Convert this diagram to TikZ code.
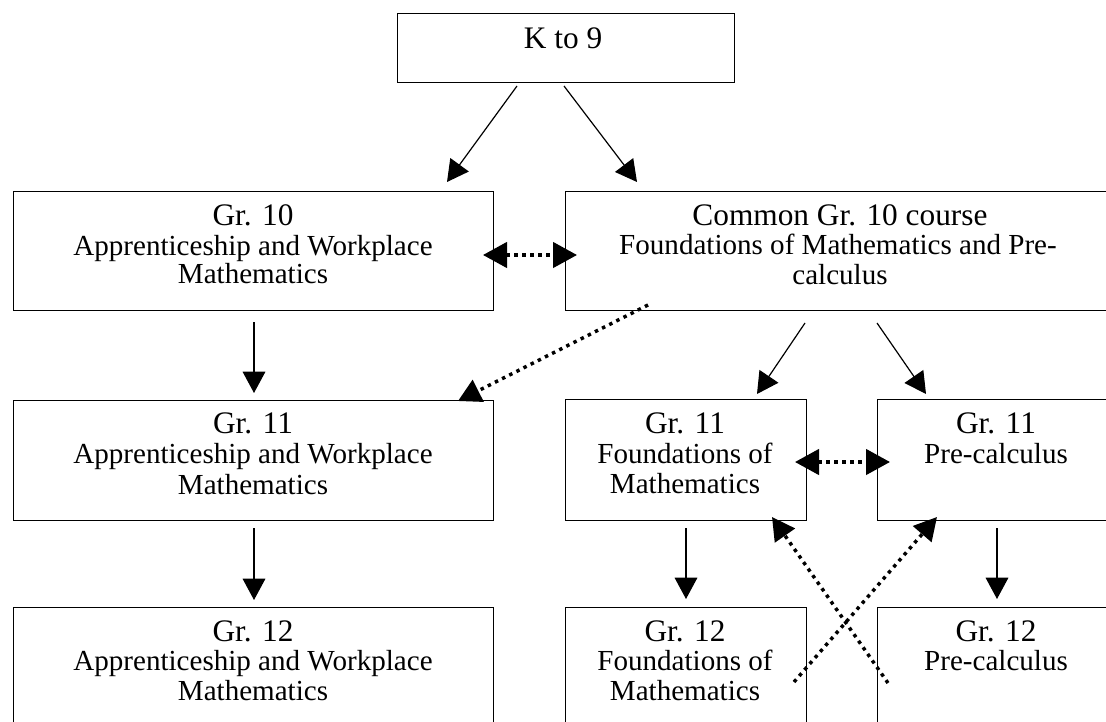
\documentclass[tikz,border=0pt]{standalone}
\usepackage{fontspec}
\setmainfont{Liberation Serif}
\usetikzlibrary{arrows.meta}
\begin{document}
\begin{tikzpicture}[x=0.75pt,y=-0.75pt,
  box/.style={draw=black,line width=1.1pt,fill=white,anchor=north west,inner sep=0pt,minimum height=89.25pt},
  ttl/.style={anchor=base,inner sep=0pt,font=\fontsize{23.5}{26}\selectfont},
  bdy/.style={anchor=base,inner sep=0pt,font=\fontsize{21.8}{24}\selectfont},
  solidarrow/.style={line width=0.9pt,-{Triangle[length=16pt,width=17pt]}},
  dotarrow/.style={line width=2.6pt,dash pattern=on 2.6pt off 3.4pt,-{Triangle[length=17pt,width=18pt]}},
  dotboth/.style={line width=2.6pt,dash pattern=on 2.6pt off 3.4pt,{Triangle[length=18pt,width=19pt]}-{Triangle[length=18pt,width=19pt]}}]
\useasboundingbox (0,0) rectangle (1106,721);
\clip (0,0) rectangle (1106,721);

% boxes
\node[box,minimum width=252.75pt,minimum height=51.75pt] (k9) at (397,13) {};
\node[box,minimum width=360pt] (g10a) at (13,191) {};
\node[box,minimum width=412.5pt] (g10c) at (565,191) {};
\node[box,minimum width=360pt,minimum height=90pt] (g11a) at (13,400) {};
\node[box,minimum width=180.75pt,minimum height=90.75pt] (g11f) at (565,399) {};
\node[box,minimum width=178.5pt,minimum height=90.75pt] (g11p) at (877,399) {};
\node[box,minimum width=360pt,minimum height=90pt] (g12a) at (13,607) {};
\node[box,minimum width=180.75pt,minimum height=90pt] (g12f) at (565,607) {};
\node[box,minimum width=178.5pt,minimum height=90pt] (g12p) at (877,607) {};

% texts
\node[ttl] (tk9) at (563,48) {K to 9};

\node[ttl] (t10a1) at (253,225) {Gr. 10};
\node[bdy] (t10a2) at (253,255) {Apprenticeship and Workplace};
\node[bdy] (t10a3) at (253,283) {Mathematics};

\node[ttl] (t10c1) at (840,225) {Common Gr. 10 course};
\node[bdy] (t10c2) at (838,254) {Foundations of Mathematics and Pre-};
\node[bdy] (t10c3) at (840,284) {calculus};

\node[ttl] (t11a1) at (253,433) {Gr. 11};
\node[bdy] (t11a2) at (253,463) {Apprenticeship and Workplace};
\node[bdy] (t11a3) at (253,494) {Mathematics};

\node[ttl] (t11f1) at (685,433) {Gr. 11};
\node[bdy] (t11f2) at (685,463) {Foundations of};
\node[bdy] (t11f3) at (685,493) {Mathematics};

\node[ttl] (t11p1) at (996,433) {Gr. 11};
\node[bdy] (t11p2) at (996,463) {Pre-calculus};

\node[ttl] (t12a1) at (253,641) {Gr. 12};
\node[bdy] (t12a2) at (253,670) {Apprenticeship and Workplace};
\node[bdy] (t12a3) at (253,700) {Mathematics};

\node[ttl] (t12f1) at (685,641) {Gr. 12};
\node[bdy] (t12f2) at (685,670) {Foundations of};
\node[bdy] (t12f3) at (685,700) {Mathematics};

\node[ttl] (t12p1) at (996,641) {Gr. 12};
\node[bdy] (t12p2) at (996,670) {Pre-calculus};

% connector end points
\coordinate (k9l) at (517,86);
\coordinate (k9r) at (564,86);
\coordinate (g10aT) at (447,182);
\coordinate (g10cT) at (637,182);
\coordinate (g10aR) at (483,255);
\coordinate (g10cL) at (577,255);
\coordinate (g10aB) at (254,322);
\coordinate (g11aT) at (254,393);
\coordinate (g10cS) at (648,305);
\coordinate (g11aTR) at (458,401);
\coordinate (g10cB1) at (805,323);
\coordinate (g10cB2) at (877,323);
\coordinate (g11fT) at (757,394);
\coordinate (g11pT) at (926,394);
\coordinate (g11fR) at (795,462);
\coordinate (g11pL) at (890,462);
\coordinate (g11aB) at (254,528);
\coordinate (g12aT) at (254,600);
\coordinate (g11fB) at (686,528);
\coordinate (g12fT) at (686,599);
\coordinate (g11pB) at (997,528);
\coordinate (g12pT) at (997,599);
\coordinate (crA) at (888,683);
\coordinate (g11fBR) at (772,517);
\coordinate (crB) at (794,682);
\coordinate (g11pBL) at (937,517);

% connectors
\draw[solidarrow] (k9l) -- (g10aT);
\draw[solidarrow] (k9r) -- (g10cT);
\draw[dotboth] (g10aR) -- (g10cL);
\draw[solidarrow] (g10aB) -- (g11aT);
\draw[dotarrow] (g10cS) -- (g11aTR);
\draw[solidarrow] (g10cB1) -- (g11fT);
\draw[solidarrow] (g10cB2) -- (g11pT);
\draw[dotboth] (g11fR) -- (g11pL);
\draw[solidarrow] (g11aB) -- (g12aT);
\draw[solidarrow] (g11fB) -- (g12fT);
\draw[solidarrow] (g11pB) -- (g12pT);
\draw[dotarrow] (crA) -- (g11fBR);
\draw[dotarrow] (crB) -- (g11pBL);
\end{tikzpicture}
\end{document}
